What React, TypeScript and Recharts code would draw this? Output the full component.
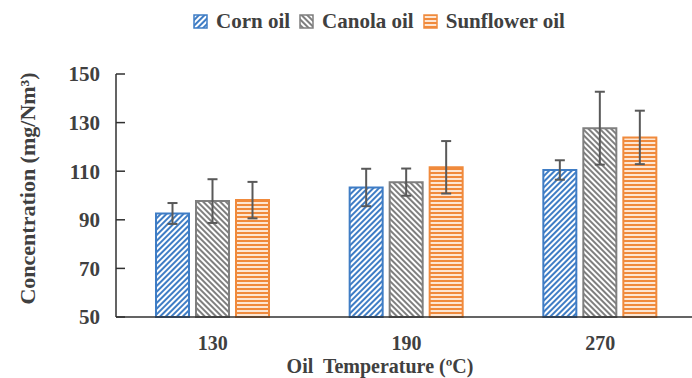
import React from 'react';
import { BarChart, Bar, XAxis, YAxis, ErrorBar } from 'recharts';

// Oil temperature groups (ºC)
const temperatures = ['130', '190', '270'];

// Mean concentration (mg/Nm³) and standard deviation per oil
const cornOil = [92.6, 103.3, 110.5];
const cornOilSd = [4.3, 7.7, 4.0];
const canolaOil = [97.7, 105.5, 127.7];
const canolaOilSd = [9.0, 5.6, 15.0];
const sunflowerOil = [98.1, 111.6, 123.9];
const sunflowerOilSd = [7.5, 10.8, 11.0];

const yTicks = [50, 70, 90, 110, 130, 150];

const seriesNames = ['Corn oil', 'Canola oil', 'Sunflower oil'];

const data = temperatures.map((t, i) => ({
  temp: t,
  corn: cornOil[i],
  cornSd: cornOilSd[i],
  canola: canolaOil[i],
  canolaSd: canolaOilSd[i],
  sunflower: sunflowerOil[i],
  sunflowerSd: sunflowerOilSd[i],
}));

const FONT = 'Liberation Serif, Tinos, Times New Roman, DejaVu Serif, serif';
const TEXT = '#404040';
const AXIS = '#303030';
const ERR = '#595959';

const BLUE = '#3F7DC5';
const GRAY = '#7F7F7F';
const ORANGE = '#F08A3C';

const styles = [
  { key: 'corn', sd: 'cornSd', fill: 'url(#hatchCorn)', stroke: BLUE },
  { key: 'canola', sd: 'canolaSd', fill: 'url(#hatchCanola)', stroke: GRAY },
  { key: 'sunflower', sd: 'sunflowerSd', fill: 'url(#hatchSunflower)', stroke: ORANGE },
];

function Patterns() {
  return (
    <svg width={0} height={0} style={{ position: 'absolute' }}>
      <defs>
        <pattern id="hatchCorn" patternUnits="userSpaceOnUse" width={4} height={4} patternTransform="rotate(45)">
          <rect width={4} height={4} fill="#ffffff" />
          <rect width={2} height={4} fill={BLUE} />
        </pattern>
        <pattern id="hatchCanola" patternUnits="userSpaceOnUse" width={4} height={4} patternTransform="rotate(-45)">
          <rect width={4} height={4} fill="#ffffff" />
          <rect width={2} height={4} fill={GRAY} />
        </pattern>
        <pattern id="hatchSunflower" patternUnits="userSpaceOnUse" width={4} height={4}>
          <rect width={4} height={4} fill="#FDE6D3" />
          <rect width={4} height={2} fill={ORANGE} />
        </pattern>
      </defs>
    </svg>
  );
}

function LegendRow() {
  return (
    <div
      style={{
        position: 'absolute',
        top: 8,
        left: 193,
        display: 'flex',
        alignItems: 'center',
        fontFamily: FONT,
        fontWeight: 'bold',
        fontSize: 21,
        lineHeight: '26px',
        color: TEXT,
        whiteSpace: 'nowrap',
      }}
    >
      {seriesNames.map((name, i) => (
        <div key={name} style={{ display: 'flex', alignItems: 'center', marginRight: 9 }}>
          <svg width={15} height={15} style={{ marginRight: 8 }}>
            <rect x={1} y={1} width={13} height={13} fill={styles[i].fill} stroke={styles[i].stroke} strokeWidth={1.5} />
          </svg>
          <span>{name}</span>
        </div>
      ))}
    </div>
  );
}

export default function App() {
  return (
    <div style={{ position: 'absolute', left: 0, top: 0, width: 692, height: 378, overflow: 'hidden', background: '#fff' }}>
      <Patterns />
      <BarChart
        width={700}
        height={378}
        data={data}
        margin={{ top: 74, right: 3, bottom: 0, left: 0 }}
        barCategoryGap={40}
        barGap={7}
      >
        <XAxis
          dataKey="temp"
          height={61}
          tickLine={false}
          axisLine={{ stroke: AXIS, strokeWidth: 1.5 }}
          tickMargin={13}
          tick={{ fontFamily: FONT, fontWeight: 'bold', fontSize: 20, fill: TEXT }}
          label={{
            content: (props: any) => {
              const vb = props.viewBox;
              return (
                <text
                  x={vb.x + 264}
                  y={vb.y + 56}
                  textAnchor="middle"
                  fontFamily={FONT}
                  fontWeight="bold"
                  fontSize={20}
                  fill={TEXT}
                  style={{ whiteSpace: 'pre' }}
                >
                  {'Oil  Temperature (ºC)'}
                </text>
              );
            },
          }}
        />
        <YAxis
          width={116}
          domain={[50, 150]}
          ticks={yTicks}
          interval={0}
          tickSize={-9}
          tickMargin={25}
          tickLine={{ stroke: AXIS, strokeWidth: 1.5 }}
          axisLine={{ stroke: AXIS, strokeWidth: 1.5 }}
          tick={{ fontFamily: FONT, fontWeight: 'bold', fontSize: 21, fill: TEXT }}
          label={{
            content: (props: any) => {
              const vb = props.viewBox;
              const cx = vb.x + 27;
              const cy = vb.y + vb.height / 2 - 7;
              return (
                <text
                  x={cx}
                  y={cy}
                  transform={`rotate(-90 ${cx} ${cy})`}
                  textAnchor="middle"
                  dominantBaseline="central"
                  fontFamily={FONT}
                  fontWeight="bold"
                  fontSize={22}
                  fill={TEXT}
                >
                  Concentration (mg/Nm³)
                </text>
              );
            },
          }}
        />
        {styles.map((s) => (
          <Bar
            key={s.key}
            dataKey={s.key}
            barSize={33}
            fill={s.fill}
            stroke={s.stroke}
            strokeWidth={2}
            isAnimationActive={false}
          >
            <ErrorBar dataKey={s.sd} width={5} stroke={ERR} strokeWidth={2} direction="y" />
          </Bar>
        ))}
      </BarChart>
      <LegendRow />
    </div>
  );
}
